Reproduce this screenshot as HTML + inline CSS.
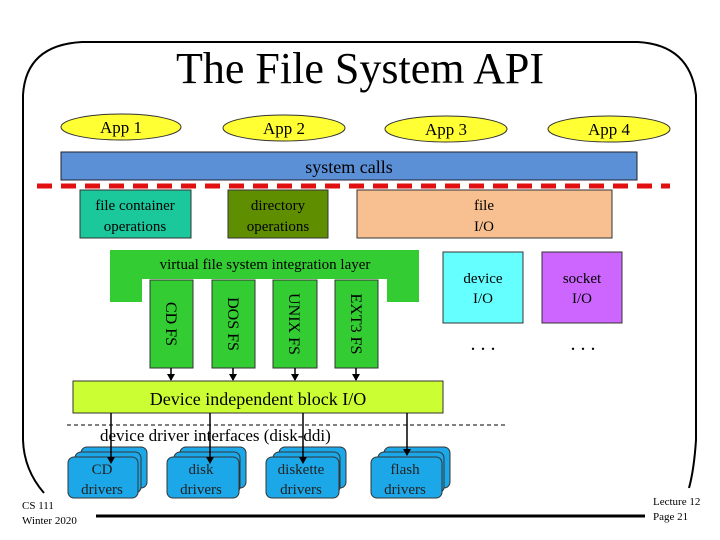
<!DOCTYPE html>
<html><head><meta charset="utf-8"><style>
html,body{margin:0;padding:0;background:#fff;}
svg{display:block;}
text{font-family:"Liberation Serif",serif;}
</style></head><body>
<svg width="720" height="540" viewBox="0 0 720 540" xmlns="http://www.w3.org/2000/svg">
<defs><marker id="ar" markerWidth="8" markerHeight="8" refX="6" refY="4" orient="auto" markerUnits="userSpaceOnUse"><path d="M0,0 L7,4 L0,8 Z" fill="#000"/></marker></defs>
<!-- frame -->
<path d="M44,493 Q24,470 23,440 L23,95 Q26,45 82,42 L638,42 Q690,45 696,95 L696,440 Q694,470 689,488" fill="none" stroke="#000" stroke-width="2"/>
<path d="M96,516 L645,516" stroke="#000" stroke-width="3"/>
<text x="360" y="83" font-size="44" text-anchor="middle" textLength="368" lengthAdjust="spacingAndGlyphs">The File System API</text>
<!-- apps -->
<g fill="#ffff33" stroke="#333" stroke-width="1">
<ellipse cx="121" cy="127" rx="60" ry="13"/><ellipse cx="284" cy="128" rx="61" ry="13"/>
<ellipse cx="446" cy="129" rx="61" ry="13"/><ellipse cx="609" cy="129" rx="61" ry="13"/></g>
<g font-size="17" text-anchor="middle"><text x="121" y="133">App 1</text><text x="284" y="134">App 2</text><text x="446" y="135">App 3</text><text x="609" y="135">App 4</text></g>
<rect x="61" y="152" width="576" height="28" fill="#5b8fd6" stroke="#223" stroke-width="1"/>
<text x="349" y="173" font-size="18" text-anchor="middle">system calls</text>
<line x1="37" y1="186" x2="670" y2="186" stroke="#e01010" stroke-width="5" stroke-dasharray="15,9"/>
<rect x="80" y="190" width="111" height="48" fill="#1ac89c" stroke="#333"/>
<rect x="228" y="190" width="100" height="48" fill="#5f8f00" stroke="#333"/>
<rect x="357" y="190" width="255" height="48" fill="#f8c090" stroke="#333"/>
<g font-size="15" text-anchor="middle"><text x="135" y="210">file container</text><text x="135" y="231">operations</text>
<text x="278" y="210">directory</text><text x="278" y="231">operations</text>
<text x="484" y="210">file</text><text x="484" y="231">I/O</text></g>
<!-- vfs -->
<path d="M110,250 L419,250 L419,302 L387,302 L387,279 L142,279 L142,302 L110,302 Z" fill="#33cc33"/>
<text x="265" y="269" font-size="15" text-anchor="middle">virtual file system integration layer</text>
<g fill="#33cc33" stroke="#333"><rect x="150" y="280" width="43" height="88"/><rect x="212" y="280" width="43" height="88"/><rect x="273" y="280" width="44" height="88"/><rect x="335" y="280" width="43" height="88"/></g>
<g font-size="16" text-anchor="middle">
<text transform="translate(166,324) rotate(90)">CD FS</text>
<text transform="translate(228,324) rotate(90)">DOS FS</text>
<text transform="translate(289,324) rotate(90)">UNIX FS</text>
<text transform="translate(351,324) rotate(90)">EXT3 FS</text></g>
<g stroke="#000" stroke-width="1.5" marker-end="url(#ar)"><line x1="171" y1="368" x2="171" y2="380"/><line x1="233" y1="368" x2="233" y2="380"/><line x1="295" y1="368" x2="295" y2="380"/><line x1="356" y1="368" x2="356" y2="380"/></g>
<rect x="443" y="252" width="80" height="71" fill="#66ffff" stroke="#333"/>
<rect x="542" y="252" width="80" height="71" fill="#cc66ff" stroke="#333"/>
<g font-size="15" text-anchor="middle"><text x="483" y="283">device</text><text x="483" y="303">I/O</text><text x="582" y="283">socket</text><text x="582" y="303">I/O</text></g>
<g font-size="20" text-anchor="middle"><text x="483" y="350">. . .</text><text x="583" y="350">. . .</text></g>
<rect x="73" y="381" width="370" height="32" fill="#ccff33" stroke="#333"/>
<text x="258" y="405" font-size="18" text-anchor="middle">Device independent block I/O</text>
<line x1="67" y1="425" x2="508" y2="425" stroke="#000" stroke-width="1" stroke-dasharray="4,3"/>
<text x="100" y="441" font-size="17">device driver interfaces (disk-ddi)</text>
<!-- drivers -->
<g fill="#1ca8e8" stroke="#333" stroke-width="1">
<rect x="81" y="447" width="66" height="41" rx="6"/><rect x="75" y="452" width="66" height="41" rx="6"/><rect x="68" y="457" width="70" height="41" rx="6"/>
<rect x="180" y="447" width="66" height="41" rx="6"/><rect x="174" y="452" width="66" height="41" rx="6"/><rect x="167" y="457" width="72" height="41" rx="6"/>
<rect x="279" y="447" width="67" height="41" rx="6"/><rect x="273" y="452" width="67" height="41" rx="6"/><rect x="266" y="457" width="73" height="41" rx="6"/>
<rect x="384" y="447" width="66" height="41" rx="6"/><rect x="378" y="452" width="66" height="41" rx="6"/><rect x="371" y="457" width="71" height="41" rx="6"/></g>
<g font-size="15" text-anchor="middle" fill="#222">
<text x="102" y="474">CD</text><text x="102" y="494">drivers</text>
<text x="201" y="474">disk</text><text x="201" y="494">drivers</text>
<text x="301" y="474">diskette</text><text x="301" y="494">drivers</text>
<text x="405" y="474">flash</text><text x="405" y="494">drivers</text></g>
<g stroke="#000" stroke-width="1.5" marker-end="url(#ar)"><line x1="111" y1="413" x2="111" y2="463"/><line x1="210" y1="413" x2="210" y2="463"/><line x1="303" y1="413" x2="303" y2="463"/><line x1="407" y1="413" x2="407" y2="455"/></g>
<g font-size="11"><text x="22" y="509">CS 111</text><text x="22" y="524">Winter 2020</text><text x="653" y="505">Lecture 12</text><text x="653" y="520">Page 21</text></g>
</svg>
</body></html>
